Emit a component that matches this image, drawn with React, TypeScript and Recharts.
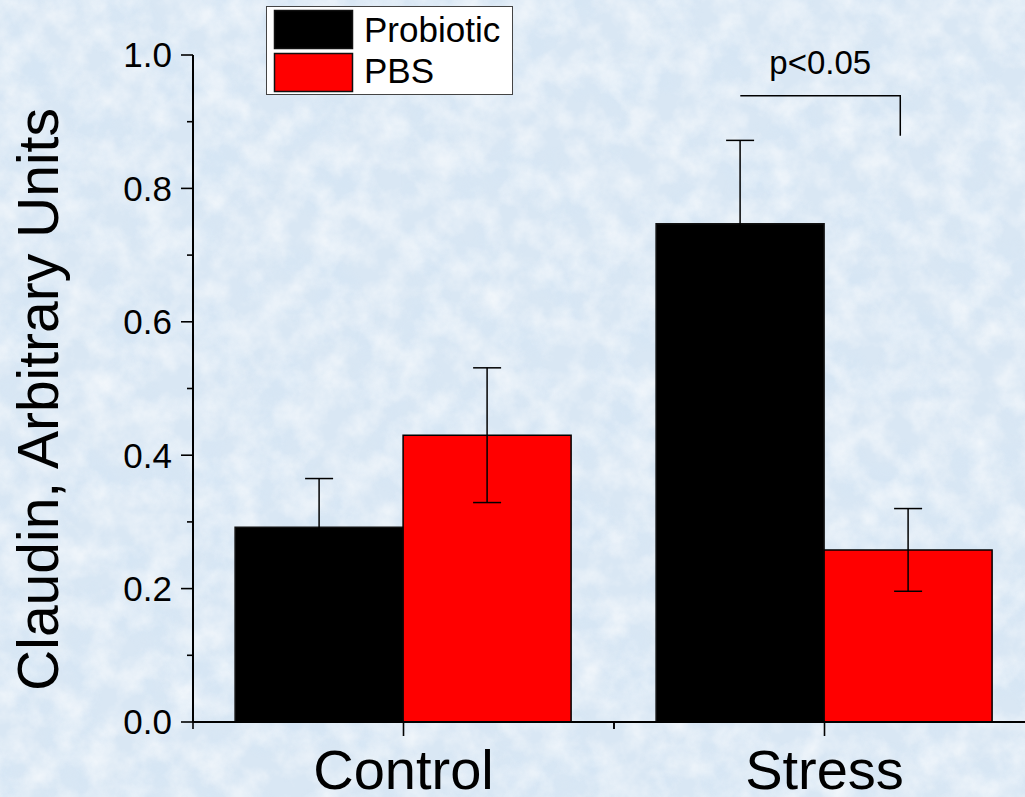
import React from 'react';
import {
  BarChart,
  Bar,
  XAxis,
  YAxis,
  ErrorBar,
  Legend,
  ReferenceLine,
} from 'recharts';

const categories = ['Control', 'Stress'];
const probiotic = [0.292, 0.747];
const probioticErr = [0.073, 0.125];
const pbs = [0.43, 0.258];
const pbsErr = [0.101, 0.062];
const yTicks = [0, 0.1, 0.2, 0.3, 0.4, 0.5, 0.6, 0.7, 0.8, 0.9, 1.0];
const majorYTicks = [0, 0.2, 0.4, 0.6, 0.8, 1.0];

// significance bracket, x in band units (0..2 across the two groups)
const bracketX = [1.3, 1.68];
const bracketY = [0.939, 0.879];
const bracketLabel = 'p<0.05';

const FONT = '"Liberation Sans", Arial, Helvetica, sans-serif';
const CHART_W = 1100;
const CHART_H = 797;
const MARGIN = { top: 55, right: 65, bottom: 0, left: 0 };
const Y_AXIS_W = 193;
const X_AXIS_H = 75;
const PLOT_H = CHART_H - MARGIN.top - MARGIN.bottom - X_AXIS_H;
const BAND_W = (CHART_W - MARGIN.left - MARGIN.right - Y_AXIS_W) / categories.length;

const data = categories.map((name, i) => ({
  name,
  probiotic: probiotic[i],
  probioticErr: probioticErr[i],
  pbs: pbs[i],
  pbsErr: pbsErr[i],
}));

// eslint-disable-next-line @typescript-eslint/no-explicit-any
function YTick(props: any) {
  const { x, y, payload } = props;
  const major = majorYTicks.some((t) => Math.abs(t - payload.value) < 1e-6);
  return (
    <g>
      <line x1={x - (major ? 12 : 6)} x2={x} y1={y} y2={y} stroke="#000" strokeWidth={1.6} />
      {major && (
        <text x={x - 21} y={y} dy="0.355em" textAnchor="end" fontSize={35} fontFamily={FONT} fill="#000">
          {payload.value.toFixed(1)}
        </text>
      )}
    </g>
  );
}

// eslint-disable-next-line @typescript-eslint/no-explicit-any
function XTick(props: any) {
  const { x, y, payload } = props;
  const half = BAND_W / 2;
  return (
    <g>
      <line x1={x} x2={x} y1={y} y2={y + 14} stroke="#000" strokeWidth={1.6} />
      <line x1={x - half} x2={x - half} y1={y} y2={y + 7} stroke="#000" strokeWidth={1.6} />
      <line x1={x + half} x2={x + half} y1={y} y2={y + 7} stroke="#000" strokeWidth={1.6} />
      <text x={x} y={y + 67} textAnchor="middle" fontSize={56} fontFamily={FONT} fill="#000">
        {payload.value}
      </text>
    </g>
  );
}

// eslint-disable-next-line @typescript-eslint/no-explicit-any
function YLabel(props: any) {
  const vb = props.viewBox;
  const cx = vb.x + 58;
  const cy = vb.y + vb.height / 2 + 11;
  return (
    <text
      x={cx}
      y={cy}
      transform={`rotate(-90, ${cx}, ${cy})`}
      textAnchor="middle"
      fontSize={57}
      fontFamily={FONT}
      fill="#000"
    >
      Claudin, Arbitrary Units
    </text>
  );
}

// draws the p-value bracket; the reference line gives the plot's left edge and the y pixel
// eslint-disable-next-line @typescript-eslint/no-explicit-any
function Bracket(props: any) {
  const { x1, y1 } = props;
  const left = x1 + bracketX[0] * BAND_W;
  const right = x1 + bracketX[1] * BAND_W;
  const drop = y1 + (bracketY[0] - bracketY[1]) * PLOT_H;
  return (
    <g>
      <path d={`M${left},${y1}H${right}V${drop}`} fill="none" stroke="#000" strokeWidth={1.5} />
      <text x={(left + right) / 2} y={y1 - 22} textAnchor="middle" fontSize={33} fontFamily={FONT} fill="#000">
        {bracketLabel}
      </text>
    </g>
  );
}

function LegendBox() {
  const rows = [
    { label: 'Probiotic', color: '#000000' },
    { label: 'PBS', color: '#ff0000' },
  ];
  return (
    <svg width={248} height={90} style={{ display: 'block' }}>
      <rect x={0.5} y={0.5} width={246} height={88} fill="#fff" stroke="#444" strokeWidth={1} />
      {rows.map((r, i) => (
        <g key={r.label}>
          <rect x={8.5} y={4.5 + i * 43} width={78} height={38} fill={r.color} stroke="#111" strokeWidth={1.5} />
          <text x={98} y={36 + i * 41} fontSize={35} fontFamily={FONT} fill="#000">
            {r.label}
          </text>
        </g>
      ))}
    </svg>
  );
}

function Background() {
  return (
    <svg width={1025} height={797} style={{ position: 'absolute', left: 0, top: 0 }}>
      <defs>
        <filter id="paper" x="0" y="0" width="100%" height="100%">
          <feTurbulence type="fractalNoise" baseFrequency="0.035" numOctaves={4} seed={7} result="n" />
          <feColorMatrix
            in="n"
            type="matrix"
            values="0 0 0 0 1  0 0 0 0 1  0 0 0 0 1  1.6 0 0 0 -0.55"
          />
        </filter>
        <filter id="paper2" x="0" y="0" width="100%" height="100%">
          <feTurbulence type="fractalNoise" baseFrequency="0.02" numOctaves={3} seed={3} result="n" />
          <feColorMatrix
            in="n"
            type="matrix"
            values="0 0 0 0 0.62  0 0 0 0 0.77  0 0 0 0 0.92  1.4 0 0 0 -0.6"
          />
        </filter>
      </defs>
      <rect width={1025} height={797} fill="#d9e7f4" />
      <rect width={1025} height={797} filter="url(#paper2)" opacity={0.5} />
      <rect width={1025} height={797} filter="url(#paper)" opacity={0.7} />
    </svg>
  );
}

export default function App() {
  return (
    <div
      style={{
        position: 'absolute',
        left: 0,
        top: 0,
        width: 1025,
        height: 797,
        overflow: 'hidden',
        fontFamily: FONT,
      }}
    >
      <Background />
      <div style={{ position: 'absolute', left: 0, top: 0 }}>
        <BarChart
          width={CHART_W}
          height={CHART_H}
          data={data}
          margin={MARGIN}
          barCategoryGap="10%"
          barGap={0}
        >
          <XAxis
            dataKey="name"
            height={X_AXIS_H}
            stroke="#000"
            strokeWidth={2}
            tickLine={false}
            tickSize={0}
            tickMargin={0}
            tick={<XTick />}
            interval={0}
          />
          <YAxis
            width={Y_AXIS_W}
            domain={[0, 1]}
            ticks={yTicks}
            interval={0}
            stroke="#000"
            strokeWidth={2}
            tickLine={false}
            tickSize={0}
            tickMargin={0}
            tick={<YTick />}
            label={{ content: <YLabel /> }}
          />
          <Legend
            layout="vertical"
            align="center"
            verticalAlign="middle"
            content={<LegendBox />}
            wrapperStyle={{ left: 266, top: 6, width: 248, height: 90 }}
          />
          <Bar dataKey="probiotic" name="Probiotic" fill="#000000" stroke="#111" strokeWidth={1.5} isAnimationActive={false}>
            <ErrorBar dataKey="probioticErr" width={14} stroke="#000" strokeWidth={1.5} isAnimationActive={false} />
          </Bar>
          <Bar dataKey="pbs" name="PBS" fill="#ff0000" stroke="#000" strokeWidth={1.5} isAnimationActive={false}>
            <ErrorBar dataKey="pbsErr" width={14} stroke="#000" strokeWidth={1.5} isAnimationActive={false} />
          </Bar>
          <ReferenceLine y={bracketY[0]} shape={(p: any) => <Bracket {...p} />} />
        </BarChart>
      </div>
    </div>
  );
}
